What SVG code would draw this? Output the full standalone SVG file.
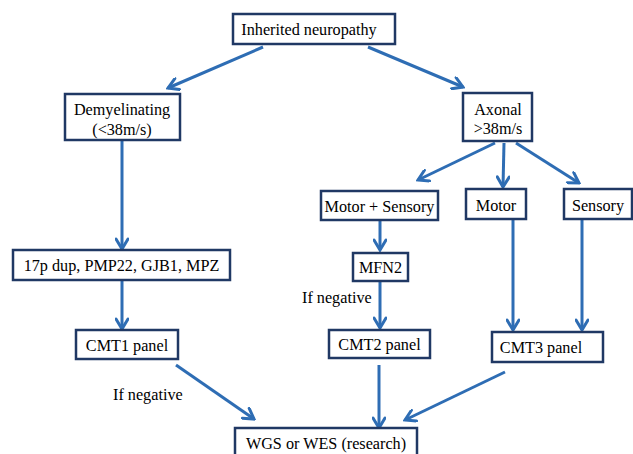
<svg xmlns="http://www.w3.org/2000/svg" width="633" height="454" viewBox="0 0 633 454">
<defs>
<marker id="ah" viewBox="0 0 14 14" refX="12" refY="7" markerWidth="14" markerHeight="14" markerUnits="userSpaceOnUse" orient="auto">
<path d="M2,1 L12,7 L2,13" fill="none" stroke="#2E6DB4" stroke-width="3" stroke-linecap="round" stroke-linejoin="miter"/>
</marker>
<style>
rect{fill:#fff;stroke:#203864;stroke-width:2.5}
text{font-family:'Liberation Serif','Times New Roman','DejaVu Serif',serif;font-size:16.2px;fill:#000}
.c{text-anchor:middle}
#connectors line{stroke:#2E6DB4;stroke-width:3;marker-end:url(#ah)}
</style>
</defs>
<rect x="0" y="0" width="633" height="454" style="fill:#fff;stroke:none"/>
<g id="connectors">
<line x1="263" y1="47" x2="168" y2="88"/>
<line x1="368" y1="47" x2="463" y2="87"/>
<line x1="122" y1="141" x2="122" y2="249"/>
<line x1="122" y1="281" x2="122" y2="329"/>
<line x1="495" y1="143" x2="418" y2="180"/>
<line x1="504" y1="143" x2="503" y2="187"/>
<line x1="516" y1="143" x2="579" y2="183"/>
<line x1="380" y1="221" x2="380" y2="250"/>
<line x1="380" y1="282" x2="380" y2="328"/>
<line x1="513" y1="220" x2="513" y2="330"/>
<line x1="582" y1="220" x2="582" y2="330"/>
<line x1="176" y1="365" x2="254" y2="419"/>
<line x1="379" y1="365" x2="379" y2="428"/>
<line x1="505" y1="372" x2="405" y2="420"/>
</g>
<g font-family="Liberation Serif, serif">
<g id="inherited"><rect x="233" y="14" width="162" height="30"/><text class="c" x="309" y="35">Inherited neuropathy</text></g>
<g id="demyelinating"><rect x="65" y="94" width="115" height="46"/><text class="c" x="122" y="115">Demyelinating</text><text class="c" x="122" y="135">(&lt;38m/s)</text></g>
<g id="axonal"><rect x="463" y="93" width="69" height="48"/><text class="c" x="498" y="115">Axonal</text><text class="c" x="498" y="134">&gt;38m/s</text></g>
<g id="motor-sensory"><rect x="321" y="191" width="117" height="29"/><text class="c" x="379.5" y="212">Motor + Sensory</text></g>
<g id="motor"><rect x="466" y="189" width="60" height="30"/><text class="c" x="496" y="211">Motor</text></g>
<g id="sensory"><rect x="564" y="189" width="68" height="30"/><text class="c" x="598" y="211">Sensory</text></g>
<g id="genes"><rect x="13" y="250" width="217" height="30"/><text class="c" x="121.5" y="271">17p dup, PMP22, GJB1, MPZ</text></g>
<g id="mfn2"><rect x="353" y="253" width="55" height="28"/><text class="c" x="380.5" y="273">MFN2</text></g>
<g id="if-negative-1"><text x="302" y="303">If negative</text></g>
<g id="cmt1"><rect x="76" y="330" width="102" height="29"/><text class="c" x="127" y="351">CMT1 panel</text></g>
<g id="cmt2"><rect x="329" y="330" width="101" height="28"/><text class="c" x="379.5" y="350">CMT2 panel</text></g>
<g id="cmt3"><rect x="492" y="332" width="111" height="30"/><text class="c" x="541" y="353">CMT3 panel</text></g>
<g id="if-negative-2"><text x="113" y="400">If negative</text></g>
<g id="wgs"><rect x="235" y="428" width="182" height="30"/><text class="c" x="326" y="449">WGS or WES (research)</text></g>
</g>
</svg>
